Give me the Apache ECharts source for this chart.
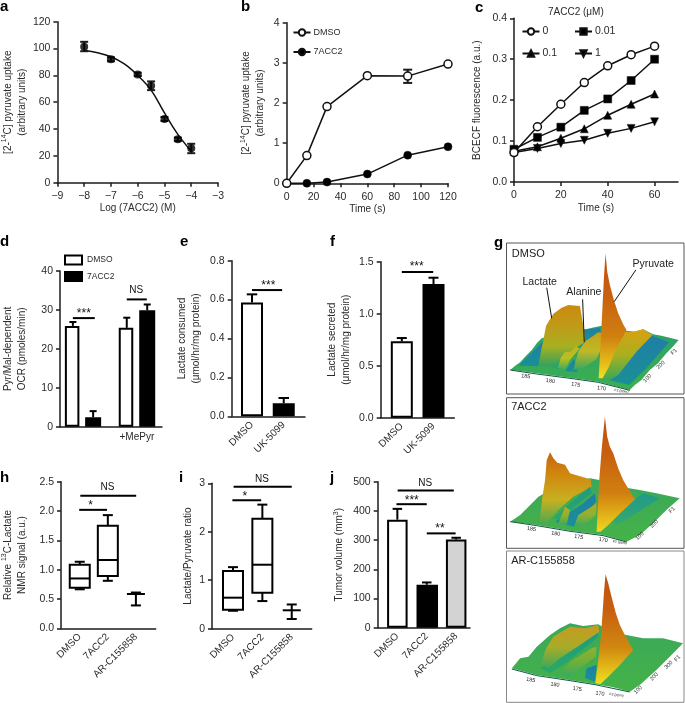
<!DOCTYPE html>
<html><head><meta charset="utf-8">
<script src="https://cdn.jsdelivr.net/npm/echarts@6/dist/echarts.min.js"></script>
<style>html,body{margin:0;padding:0;background:#fff}#c{width:685px;height:703px}</style>
</head><body><div id="c"></div>
<script>
// ---- values ----
const aPoints=[[-8,101.4],[-7,92],[-6,80.7],[-5.5,72.3],[-5,47.5],[-4.5,32.3],[-4,25.6]];
const aErr=[[-8,98,105],[-7,90.5,93.5],[-6,79.5,82],[-5.5,69,75.5],[-5,46,49],[-4.5,31,33.6],[-4,22,29]];
const aCurve=[[-8,98.5],[-7.5,96.8],[-7,93.9],[-6.5,88.5],[-6,80],[-5.5,69],[-5,52],[-4.5,36],[-4,23.5]];
const bTime=[0,15,30,60,90,120];
const bDmso=[0,0.69,1.91,2.68,2.67,2.97];
const bDrug=[0,0,0.03,0.23,0.7,0.91];
const bErr=[[90,2.5,2.83]];
const cTime=[0,10,20,30,40,50,60];
const c0=[0.072,0.135,0.19,0.243,0.284,0.311,0.332];
const c001=[0.08,0.109,0.134,0.175,0.203,0.248,0.30];
const c01=[0.075,0.086,0.107,0.13,0.163,0.19,0.215];
const c1=[0.072,0.082,0.094,0.102,0.119,0.131,0.147];
const dSlots=[1,2,3.66,4.67];
const dDmso=[25.9,25.4];const dDrug=[2.4,29.9];
const dTop=[26.9,4,28,31.4];
const eCats=['DMSO','UK-5099'];
const eVals=[0.585,0.067];const eTop=[0.627,0.094];
const fVals=[0.734,1.285];const fTop=[0.766,1.346];
const boxCats=['DMSO','7ACC2','AR-C155858'];
// low, q1, median, q3, high
const hBoxes=[[0.665,0.69,0.85,1.085,1.135],[0.81,0.89,1.165,1.75,1.93],[0.39,0.585,0.585,0.585,0.61]];
const iBoxes=[[0.37,0.39,0.64,1.19,1.27],[0.57,0.74,1.32,2.27,2.56],[0.2,0.38,0.38,0.38,0.5]];
const jVals=[370,147,302];const jTop=[407,155,308];
// significance bars: from, to, height ; labels: position, height, text
const dSig=[[1,2.08,27.9],[3.66,4.65,32.7]],dSigT=[[1.54,29.7,'***'],[4.13,35.1,'NS']];
const eSig=[[1,1.95,0.649]],eSigT=[[1.515,0.687,'***']];
const fSig=[[1,1.99,1.40]],fSigT=[[1.47,1.478,'***']];
const hSig=[[1.02,3.01,2.26],[0.98,1.97,2.02]],hSigT=[[1.99,2.406,'NS'],[1.39,2.14,'*']];
const iSig=[[1.02,3.0,2.93],[0.98,1.96,2.65]],iSigT=[[1.99,3.09,'NS'],[1.4,2.78,'*']];
const jSig=[[1.01,2.92,470],[0.97,2.0,423],[2,2.98,323]],jSigT=[[1.95,495,'NS'],[1.49,445,'***'],[2.45,348,'**']];
// ---- panel g: hand-traced surfaces (stops, outline) in crop units ----
const green=['#2e9f6e','#3bb04c'],greenB=['#3aa85a','#45b248'],blue=['#1f7fa6','#1a8f96'],teal=['#1f9a80','#2aa868'];
const gDmso=[
 [green,[[120,405],[135,392],[150,382],[165,365],[185,345],[200,325],[215,310],[260,298],[300,290],[350,282],[395,272],[430,285],[470,287],[495,290],[520,283],[550,298],[575,302],[600,308],[627,315],[605,340],[590,355],[565,385],[540,405],[515,435],[495,450],[480,465],[430,452],[385,440],[300,428],[200,415],[150,408]]],
 [blue,[[145,392],[205,394],[214,340],[222,316],[190,348],[165,372]]],
 [blue,[[420,436],[478,450],[530,400],[598,322],[548,302],[510,330],[470,375]]],
 [blue,[[338,285],[392,278],[392,300],[345,318]]],
 [blue,[[285,408],[312,372],[322,412]]],
 [['#d9a010','#a8b020','#35a85a'],[[392,435],[430,290],[490,290],[520,283],[548,300],[500,350],[445,420],[415,438]]],
 [['#cc8a0f','#c09a18','#a8b020','#30a060'],[[205,392],[215,340],[228,272],[250,236],[275,218],[295,210],[330,213],[338,260],[345,300],[345,322],[300,350],[260,395]]],
 [teal,[[245,398],[300,350],[345,322],[320,350],[270,402]]],
 [['#c9b020','#b8c020','#40a860'],[[264,398],[272,368],[285,352],[300,350],[318,335],[330,340],[300,375],[285,405]]],
 [['#c8a018','#c0b828','#3aa860'],[[310,405],[325,350],[345,320],[385,292],[398,295],[395,340],[380,372],[345,395]]],
 [['#c0500f','#c8600f','#d0800f','#f0e020'],[[386,430],[392,330],[398,210],[402,130],[407,55],[412,110],[420,150],[432,195],[445,235],[460,268],[470,285],[440,340],[415,400],[398,430]]]
];
const g7acc=[
 [greenB,[[120,185],[150,165],[175,140],[205,110],[240,90],[300,70],[360,55],[400,62],[460,82],[510,90],[560,100],[630,115],[590,150],[550,190],[510,225],[470,245],[400,225],[300,212],[200,195]]],
 [blue,[[255,185],[295,160],[340,130],[375,100],[378,125],[345,165],[310,200]]],
 [['#1f9a8a','#35a870'],[[440,195],[500,160],[570,115],[520,100],[480,130],[430,185]]],
 [['#d09018','#b8b020','#40a860'],[[385,215],[400,60],[440,60],[495,118],[440,170],[405,205]]],
 [['#c8640f','#d08a10','#c8b020','#50a850'],[[208,188],[217,110],[225,60],[230,0],[240,-23],[250,-5],[262,8],[285,14],[300,40],[335,50],[362,58],[365,80],[310,110],[265,150],[230,190]]],
 [teal,[[250,175],[300,130],[360,80],[365,100],[320,135],[275,180]]],
 [['#c0a820','#90b030','#3aa860'],[[265,190],[285,140],[300,150],[290,195]]],
 [['#b8a820','#90b030','#3aa860'],[[312,200],[325,165],[365,140],[380,130],[378,165],[345,195]]],
 [['#c0500f','#c8600f','#d0800f','#f0d820'],[[380,215],[388,60],[396,-40],[405,-130],[412,-70],[420,-40],[430,-20],[445,25],[460,60],[495,118],[450,160],[415,195],[392,215]]]
];
const gAr=[
 [greenB,[[125,625],[150,595],[175,590],[200,560],[240,525],[270,505],[300,490],[340,498],[385,493],[430,520],[470,525],[520,535],[580,535],[640,550],[600,590],[560,630],[510,675],[480,695],[430,682],[375,672],[300,660],[200,645]]],
 [blue,[[345,655],[376,665],[380,615],[350,625]]],
 [teal,[[210,625],[250,600],[300,570],[380,510],[385,530],[300,600],[240,640]]],
 [['#c89a20','#a8ac28','#40a858'],[[213,612],[228,565],[250,530],[300,500],[345,505],[385,495],[388,515],[330,555],[270,595],[235,625]]],
 [['#90b030','#70b038','#3aa860'],[[270,640],[300,605],[365,565],[380,560],[378,590],[330,625],[295,650]]],
 [['#c0500f','#c8600f','#d08810','#f0e020'],[[376,670],[384,610],[392,540],[398,460],[402,400],[407,343],[415,370],[425,410],[438,460],[450,495],[465,525],[490,570],[450,615],[415,650],[392,672]]]
];
const gEdge1=[[120,405],[200,417],[300,430],[385,442],[480,466]];
const gEdge2=[[120,185],[200,197],[300,214],[400,227],[470,246]];
const gEdge3=[[125,627],[200,647],[300,662],[375,674],[480,696]];
const gText1=[[125,57,'DMSO',11,0,'left'],[157,142,'Lactate',10.5,0,'left'],[289,172,'Alanine',10.5,0,'left'],[488,88,'Pyruvate',10.5,0,'left'],[167,424,'185',5.5,-8,'center'],[241,438,'180',5.5,-8,'center'],[317,449,'175',5.5,-8,'center'],[395,460,'170',5.5,-8,'center'],[455,468,'F2 (ppm)',3.5,-8,'center'],[533,430,'100',5.5,45,'center'],[573,390,'200',5.5,45,'center'],[613,350,'F1',5.5,45,'center']];
const gText2=[[123,-159,'7ACC2',11,0,'left'],[184,207,'185',5.5,-8,'center'],[257,221,'180',5.5,-8,'center'],[326,231,'175',5.5,-8,'center'],[400,240,'170',5.5,-8,'center'],[450,247,'F2 (ppm)',3.5,-8,'center'],[510,228,'100',5.5,45,'center'],[553,192,'200',5.5,45,'center'],[607,150,'F1',5.5,45,'center']];
const gText3=[[123,302,'AR-C155858',11,0,'left'],[182,660,'185',5.5,-8,'center'],[255,674,'180',5.5,-8,'center'],[322,687,'175',5.5,-8,'center'],[390,701,'170',5.5,-8,'center'],[440,705,'F2 (ppm)',3.5,-8,'center'],[505,690,'100',5.5,45,'center'],[553,650,'200',5.5,45,'center'],[597,615,'300',5.5,45,'center'],[623,595,'F1',5.5,45,'center']];
const gLeaders=[[[230,158],[245,250]],[[338,193],[343,322]],[[498,105],[433,200]]];

// ---- look ----
const INK='#1c1c1c',TXT='#2a2a2a',FONT='"Liberation Sans"';
const option={animation:false,backgroundColor:'#fff',textStyle:{fontFamily:FONT},grid:[],xAxis:[],yAxis:[],series:[],legend:[],
 title:[['a',0,-1],['b',241,-1],['c',475,0],['d',0,234],['e',180,234],['f',330,234],['g',494,235],['h',0,470],['i',179,470],['j',330,470]].map(t=>({text:t[0],left:t[1],top:t[2],padding:0,textStyle:{fontSize:15,fontWeight:'bold',color:'#000',fontFamily:FONT}}))
};
option.title.push({text:'7ACC2 (μM)',left:548,top:7,padding:0,textStyle:{fontSize:10,fontWeight:'normal',color:TXT,fontFamily:FONT}});
const line={show:true,onZero:false,lineStyle:{color:INK,width:1.5}};
const tick={show:true,length:4,inside:false,lineStyle:{color:INK,width:1.5}};
function panel(L,R,T,B,y,x){
 const k=option.grid.length;
 option.grid.push({left:L,top:T,width:R-L,height:B-T});
 option.yAxis.push({gridIndex:k,type:'value',min:y.min,max:y.max,interval:y.interval,axisLine:line,axisTick:tick,splitLine:{show:false},
  axisLabel:{fontSize:10.5,color:TXT,margin:7,fontFamily:FONT,formatter:y.fmt||(v=>String(v))},
  name:y.name,nameLocation:'middle',nameGap:y.gap,nameRotate:90,nameTextStyle:{fontSize:10,color:TXT,lineHeight:14,fontFamily:FONT,rich:{s:{fontSize:7,lineHeight:14,verticalAlign:'top',color:TXT,fontFamily:FONT}}}});
 const ax={gridIndex:k,type:'value',min:x.min,max:x.max,axisLine:line,splitLine:{show:false}};
 if(x.interval!==undefined){
  Object.assign(ax,{interval:x.interval,axisTick:x.ticks?Object.assign({},tick,{customValues:x.ticks}):tick,axisLabel:{fontSize:10.5,color:TXT,margin:8,fontFamily:FONT,formatter:x.fmt||(v=>String(v))},
   name:x.name,nameLocation:'middle',nameGap:21,nameTextStyle:{fontSize:10,color:TXT,fontFamily:FONT}});
  if(x.ticks)ax.axisLabel.customValues=x.ticks;
 }else{
  Object.assign(ax,{axisTick:{show:false},axisLabel:x.cats?{show:true,customValues:x.cats.map((c,i)=>i+1),formatter:v=>x.cats[v-1],rotate:45,fontSize:10,color:TXT,margin:7,fontFamily:FONT}:{show:false}});
 }
 option.xAxis.push(ax);
 return k;
}
function add(s,k){option.series.push(Object.assign({xAxisIndex:k,yAxisIndex:k,silent:true},s));}
function errs(k,rows,cap,lw){ // rows: x, low, high
 add({type:'custom',z:3,data:rows.map((r,i)=>[i]),renderItem(p,api){
  const r=rows[p.dataIndex],a=api.coord([r[0],r[1]]),b=api.coord([r[0],r[2]]);
  const ls=[[a,b],[[b[0]-cap/2,b[1]],[b[0]+cap/2,b[1]]],[[a[0]-cap/2,a[1]],[a[0]+cap/2,a[1]]]];
  return {type:'group',children:ls.map(l=>({type:'line',shape:{x1:l[0][0],y1:l[0][1],x2:l[1][0],y2:l[1][1]},style:{stroke:INK,lineWidth:lw||1.5}}))};
 }},k);
}
function barErrs(k,xs,vals,tops,cap,lw){
 add({type:'custom',z:1,data:xs.map((x,i)=>[i]),renderItem(p,api){
  const i=p.dataIndex,a=api.coord([xs[i],vals[i]]),b=api.coord([xs[i],tops[i]]);
  return {type:'group',children:[
   {type:'line',shape:{x1:a[0],y1:a[1],x2:b[0],y2:b[1]},style:{stroke:'#000',lineWidth:lw||2}},
   {type:'line',shape:{x1:b[0]-cap/2,y1:b[1],x2:b[0]+cap/2,y2:b[1]},style:{stroke:'#000',lineWidth:lw||2}}]};
 }},k);
}
function sig(k,bars,labels){
 add({type:'custom',z:4,data:bars.map((r,i)=>[i]),renderItem(p,api){
  const r=bars[p.dataIndex],a=api.coord([r[0],r[2]]),b=api.coord([r[1],r[2]]);
  return {type:'line',shape:{x1:a[0],y1:a[1],x2:b[0],y2:b[1]},style:{stroke:'#000',lineWidth:2}};
 }},k);
 add({type:'custom',z:4,data:labels.map((r,i)=>[i]),renderItem(p,api){
  const r=labels[p.dataIndex],a=api.coord([r[0],r[1]]),star=r[2][0]==='*';
  return {type:'text',x:a[0],y:a[1]+(star?3:0),style:{text:r[2],fill:'#111',font:(star?12:10)+'px '+FONT,textAlign:'center',textVerticalAlign:'middle'}};
 }},k);
}
function bar(k,name,xs,vals,fill,w){
 add({type:'bar',name,barWidth:w,barGap:'-100%',z:2,data:xs.map((x,i)=>[x,vals[i]]),itemStyle:{color:fill,borderColor:'#000',borderWidth:2}},k);
}
function boxes(k,rows){
 add({type:'custom',z:2,data:rows.map((r,i)=>[i]),renderItem(p,api){
  const r=rows[p.dataIndex],x=p.dataIndex+1,Y=v=>api.coord([x,v])[1],c=api.coord([x,0])[0],W=10,C=5;
  const seg=(a,b,d,e)=>({type:'line',shape:{x1:a,y1:b,x2:d,y2:e},style:{stroke:'#000',lineWidth:2}});
  const ch=[seg(c,Y(r[0]),c,Y(r[4])),seg(c-C,Y(r[0]),c+C,Y(r[0])),seg(c-C,Y(r[4]),c+C,Y(r[4]))];
  if(r[1]!==r[3])ch.push({type:'rect',shape:{x:c-W,y:Y(r[3]),width:2*W,height:Y(r[1])-Y(r[3])},style:{fill:'#fff',stroke:'#000',lineWidth:2}});
  ch.push(seg(c-W+(r[1]===r[3]?1:0),Y(r[2]),c+W-(r[1]===r[3]?1:0),Y(r[2])));
  return {type:'group',children:ch};
 }},k);
}
const f1=v=>v.toFixed(1);

// a
let k=panel(56.7,218,21.7,182.7,{min:0,max:120,interval:20,name:'[2-{s|14}C] pyruvate uptake\n(arbitrary units)',gap:28},{min:-9,max:-3,interval:1,name:'Log (7ACC2) (M)',fmt:v=>String(v).replace('-','−')});
add({type:'line',name:'Fit',data:aCurve,smooth:0.4,showSymbol:false,symbol:'none',clip:false,z:2,lineStyle:{color:'#111',width:1.5}},k);
errs(k,aErr,8,2);
add({type:'scatter',name:'Uptake',data:aPoints,symbol:'circle',symbolSize:8,clip:false,z:4,itemStyle:{color:'#000'}},k);
// b
k=panel(286.7,448,22.7,183.3,{min:0,max:4,interval:1,name:'[2-{s|14}C] pyruvate uptake\n(arbitrary units)',gap:19},{min:0,max:120,interval:20,name:'Time (s)'});
errs(k,bErr,9,2);
const zip=(a,b)=>a.map((x,i)=>[x,b[i]]);
const lin=(name,xs,ys,sym,rot,fill,size)=>({type:'line',name,data:zip(xs,ys),symbol:sym,symbolRotate:rot||0,symbolSize:size||8,showSymbol:true,clip:false,z:3,lineStyle:{color:'#111',width:1.5},itemStyle:{color:fill,borderColor:'#111',borderWidth:fill==='#fff'?1.5:0.5}});
add(lin('7ACC2',bTime,bDrug,'circle',0,'#000',8),k);
add(lin('DMSO',bTime,bDmso,'circle',0,'#fff',8),k);
option.legend.push({left:292.5,top:28,orient:'vertical',itemWidth:17,itemHeight:8,itemGap:10.5,selectedMode:false,padding:0,data:['DMSO','7ACC2'],textStyle:{fontSize:9,color:TXT,fontFamily:FONT,padding:[0,0,0,-2]}});
// c
k=panel(514,678,18.3,182,{min:0,max:0.4,interval:0.1,fmt:f1,name:'BCECF fluorescence (a.u.)',gap:30},{min:0,max:70,interval:20,ticks:[0,20,40,60],name:'Time (s)'});
add(lin('1',cTime,c1,'triangle',180,'#000',8),k);
add(lin('0.1',cTime,c01,'triangle',0,'#000',8),k);
add(lin('0.01',cTime,c001,'rect',0,'#000',8),k);
add(lin('0',cTime,c0,'circle',0,'#fff',8),k);
option.legend.push({left:521.5,top:26,orient:'vertical',itemWidth:17,itemHeight:8,itemGap:11,selectedMode:false,padding:0,data:['0','0.1'],textStyle:{fontSize:10.5,color:TXT,fontFamily:FONT,padding:[0,0,0,-2]}});
option.legend.push({left:574,top:26,orient:'vertical',itemWidth:17,itemHeight:8,itemGap:11,selectedMode:false,padding:0,data:['0.01','1'],textStyle:{fontSize:10.5,color:TXT,fontFamily:FONT,padding:[0,0,0,-2]}});
// d
k=panel(57,162,271,426.7,{min:0,max:40,interval:10,name:'Pyr/Mal-dependent\nOCR (pmoles/min)',gap:31},{min:0.364,max:5.4});
option.xAxis[k].axisLabel={show:true,customValues:[4.16],formatter:()=>'+MePyr',fontSize:10,color:TXT,margin:6,fontFamily:FONT};
barErrs(k,dSlots,[dDmso[0],dDrug[0],dDmso[1],dDrug[1]],dTop,7);
bar(k,'DMSO ',[dSlots[0],dSlots[2]],dDmso,'#fff',14.5);
bar(k,'7ACC2 ',[dSlots[1],dSlots[3]],dDrug,'#000',16);
sig(k,dSig,dSigT);
option.legend.push({left:64,top:254.5,orient:'vertical',itemWidth:17,itemHeight:9,itemGap:5.5,selectedMode:false,padding:0,data:[{name:'DMSO ',icon:'rect'},{name:'7ACC2 ',icon:'rect'}],textStyle:{fontSize:8.5,color:TXT,fontFamily:FONT}});
// e
k=panel(231.7,305,260.7,416.3,{min:0,max:0.8,interval:0.2,fmt:f1,name:'Lactate consumed\n(μmol/hr/mg protein)',gap:28},{min:0.36,max:2.67,cats:eCats});
barErrs(k,[1,2],eVals,eTop,10.5);
bar(k,'Lactate consumed, DMSO',[1],[eVals[0]],'#fff',22);
bar(k,'Lactate consumed, UK-5099',[2],[eVals[1]],'#000',22);
sig(k,eSig,eSigT);
// f
k=panel(380.7,454.3,261.7,417.7,{min:0,max:1.5,interval:0.5,fmt:f1,name:'Lactate secreted\n(μmol/hr/mg protein)',gap:27},{min:0.334,max:2.656,cats:eCats});
barErrs(k,[1,2],fVals,fTop,10);
bar(k,'Lactate secreted, DMSO',[1],[fVals[0]],'#fff',22);
bar(k,'Lactate secreted, UK-5099',[2],[fVals[1]],'#000',22);
sig(k,fSig,fSigT);
// h
k=panel(56.7,155.7,481.7,628.3,{min:0,max:2.5,interval:0.5,fmt:f1,name:'Relative {s|13}C-Lactate\nNMR signal (a.u.)',gap:32},{min:0.332,max:3.705,cats:boxCats});
boxes(k,hBoxes);sig(k,hSig,hSigT);
// i
k=panel(212,311.7,483.3,628.7,{min:0,max:3,interval:1,name:'Lactate/Pyruvate ratio',gap:17},{min:0.285,max:3.68,cats:boxCats});
boxes(k,iBoxes);sig(k,iSig,iSigT);
// j
k=panel(377.7,470,481.7,627.7,{min:0,max:500,interval:100,name:'Tumor volume (mm{s|3})',gap:31},{min:0.332,max:3.47,cats:boxCats});
barErrs(k,[1,2,3],jVals,jTop,9.5);
bar(k,'Tumor, DMSO',[1],[jVals[0]],'#fff',20.5);
bar(k,'Tumor, 7ACC2',[2],[jVals[1]],'#000',21.5);
bar(k,'Tumor, AR-C155858',[3],[jVals[2]],'#d3d3d3',20.5);
sig(k,jSig,jSigT);
// g frames: hidden axes in crop units
function frame(T,H,yTop,yBot,polys,edge,texts,leaders,color){
 const k=option.grid.length;
 option.grid.push({show:true,left:506.5,top:T,width:177.5,height:H,borderColor:color,borderWidth:1,backgroundColor:'#fff'});
 option.xAxis.push({gridIndex:k,type:'value',show:false,min:109,max:643,splitLine:{show:false}});
 option.yAxis.push({gridIndex:k,type:'value',show:false,inverse:true,min:yTop,max:yBot,splitLine:{show:false}});
 add({type:'custom',z:1,data:polys.map((r,i)=>[i]),renderItem(p,api){
  const r=polys[p.dataIndex],st=r[0];
  return {type:'polygon',shape:{points:r[1].map(q=>api.coord(q))},style:{fill:new echarts.graphic.LinearGradient(0,0,0,1,st.map((c,i)=>({offset:i/(st.length-1),color:c})))}};
 }},k);
 add({type:'custom',z:2,data:[[0]],renderItem(p,api){
  return {type:'polyline',shape:{points:edge.map(q=>api.coord(q))},style:{stroke:'#0f5a4a',lineWidth:1,fill:null}};
 }},k);
 if(leaders.length)add({type:'custom',z:3,data:leaders.map((r,i)=>[i]),renderItem(p,api){
  const r=leaders[p.dataIndex],a=api.coord(r[0]),b=api.coord(r[1]);
  return {type:'line',shape:{x1:a[0],y1:a[1],x2:b[0],y2:b[1]},style:{stroke:'#111',lineWidth:1}};
 }},k);
 add({type:'custom',z:4,data:texts.map((r,i)=>[i]),renderItem(p,api){
  const r=texts[p.dataIndex],a=api.coord([r[0],r[1]]);
  return {type:'text',x:a[0],y:a[1],rotation:r[4]*Math.PI/180,style:{text:r[2],fill:'#222',font:r[3]+'px '+FONT,textAlign:r[5],textVerticalAlign:'middle'}};
 }},k);
}
frame(243,151,24,477,gDmso,gEdge1,gText1,gLeaders,'#555');
frame(397.7,150.6,-187,265,g7acc,gEdge2,gText2,[],'#555');
frame(551,151.3,273,727,gAr,gEdge3,gText3,[],'#888');
const chart=echarts.init(document.getElementById('c'),null,{renderer:'canvas',width:685,height:703});
chart.setOption(option);
</script></body></html>
